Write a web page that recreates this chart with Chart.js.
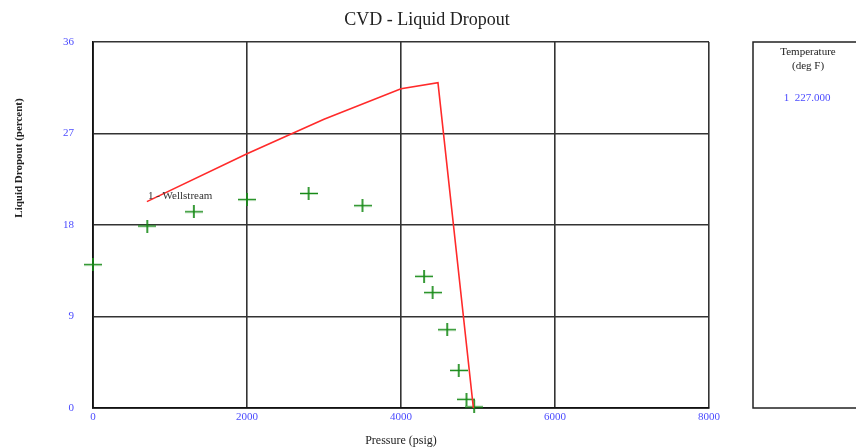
<!DOCTYPE html>
<html>
<head>
<meta charset="utf-8">
<script src="https://cdn.jsdelivr.net/npm/chart.js@4.4.1/dist/chart.umd.min.js"></script>
<style>
  body { margin: 0; background: #fff; }
  canvas { display: block; }
</style>
</head>
<body>
<canvas id="cvd_chart" width="856" height="447"></canvas>
<script>
// calculated CVD curve (red line)
const calcPressure = [700, 2000, 3000, 4000, 4480, 4940];
const calcDropout = [20.3, 25.0, 28.4, 31.4, 32.0, 0.0];

// lab measured points (green crosses)
const labPressure = [0, 705, 1310, 2000, 2800, 3500, 4300, 4410, 4600, 4750, 4850, 4950];
const labDropout = [14.1, 17.9, 19.3, 20.5, 21.1, 19.9, 12.95, 11.35, 7.7, 3.7, 0.85, 0.1];

// axis ticks
const xTicks = [0, 2000, 4000, 6000, 8000];
const yTicks = [0, 9, 18, 27, 36];

const streamName = '1 - Wellstream';
const tempLabel = ['Temperature', '(deg F)'];
const tempValue = '1  227.000';

const serif = '"Liberation Serif", "Times New Roman", serif';
const tickBlue = '#4b4bff';
const gridGrey = '#333';

// wide, flat plus sign used for the measured points
function crossMarker () {
    const c = document.createElement('canvas');
    c.width = 18;
    c.height = 13;
    const g = c.getContext('2d');
    g.strokeStyle = '#178a17';
    g.lineWidth = 1.7;
    g.beginPath();
    g.moveTo(0, 6.5); g.lineTo(18, 6.5);
    g.moveTo(9, 0); g.lineTo(9, 13);
    g.stroke();
    return c;
}

// titles, series label and the side temperature box
const textPlugin = {
    id: 'cvdText',
    afterDraw (chart) {
        const ctx = chart.ctx;
        const xs = chart.scales.x;
        const ys = chart.scales.y;
        ctx.save();
        ctx.fillStyle = '#222';
        ctx.textAlign = 'center';
        ctx.textBaseline = 'middle';

        ctx.font = '18px ' + serif;
        ctx.fillText('CVD - Liquid Dropout', 427, 20);

        ctx.font = '12px ' + serif;
        ctx.fillText('Pressure (psig)', 401, 441);

        ctx.save();
        ctx.translate(19, 158);
        ctx.rotate(-Math.PI / 2);
        ctx.font = 'bold 11px ' + serif;
        ctx.fillText('Liquid Dropout (percent)', 0, 0);
        ctx.restore();

        // series name next to the first calculated point
        ctx.textAlign = 'left';
        ctx.font = '11px ' + serif;
        ctx.fillStyle = '#333';
        ctx.fillText(streamName, xs.getPixelForValue(calcPressure[0]) + 1,
            ys.getPixelForValue(calcDropout[0]) - 6);

        // temperature box
        const top = chart.chartArea.top;
        const bottom = chart.chartArea.bottom;
        ctx.strokeStyle = '#222';
        ctx.lineWidth = 1.5;
        ctx.strokeRect(753, top, 200, bottom - top);
        ctx.textAlign = 'center';
        ctx.fillStyle = '#222';
        ctx.font = '11px ' + serif;
        ctx.fillText(tempLabel[0], 808, 52);
        ctx.fillText(tempLabel[1], 808, 66);
        ctx.fillStyle = tickBlue;
        ctx.fillText(tempValue, 807, 98);
        ctx.restore();
    }
};

const tickFont = { family: serif, size: 11 };

new Chart(document.getElementById('cvd_chart'), {
    type: 'scatter',
    data: {
        datasets: [
            {
                label: 'Calculated',
                data: calcPressure.map((p, i) => ({ x: p, y: calcDropout[i] })),
                showLine: true,
                borderColor: '#ff2a2a',
                borderWidth: 1.6,
                pointRadius: 0,
                tension: 0
            },
            {
                label: 'Measured',
                data: labPressure.map((p, i) => ({ x: p, y: labDropout[i] })),
                pointStyle: crossMarker(),
                pointRadius: 9,
                clip: false
            }
        ]
    },
    options: {
        responsive: false,
        animation: false,
        layout: { padding: { left: 0, top: 42, right: 147, bottom: 0 } },
        plugins: {
            legend: { display: false },
            tooltip: { enabled: false }
        },
        scales: {
            x: {
                type: 'linear',
                min: 0,
                max: 8000,
                afterBuildTicks: s => { s.ticks = xTicks.map(v => ({ value: v })); },
                afterFit: s => { s.height = 39; },
                grid: { color: gridGrey, lineWidth: 1.6, drawTicks: false },
                border: { color: '#111', width: 1.8 },
                ticks: { color: tickBlue, font: tickFont, padding: 3, maxRotation: 0,
                    callback: v => String(v) }
            },
            y: {
                type: 'linear',
                min: 0,
                max: 36,
                afterBuildTicks: s => { s.ticks = yTicks.map(v => ({ value: v })); },
                afterFit: s => { s.width = 93; },
                grid: { color: gridGrey, lineWidth: 1.6, drawTicks: false },
                border: { color: '#111', width: 1.8 },
                ticks: { color: tickBlue, font: tickFont, padding: 19,
                    callback: v => String(v) }
            }
        }
    },
    plugins: [textPlugin]
});
</script>
</body>
</html>
